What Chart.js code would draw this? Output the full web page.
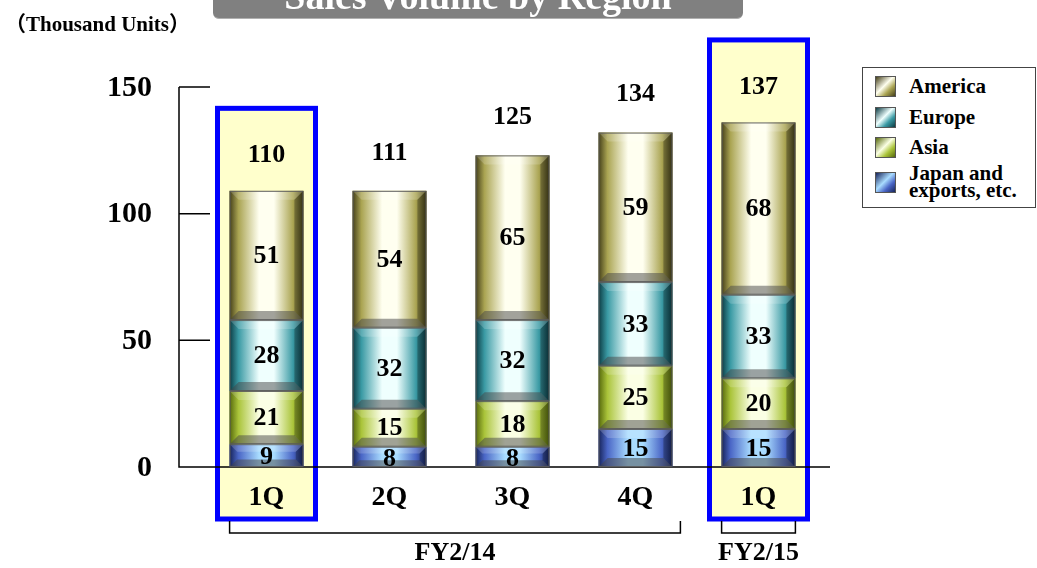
<!DOCTYPE html>
<html>
<head>
<meta charset="utf-8">
<script src="https://cdn.jsdelivr.net/npm/chart.js@4.4.0/dist/chart.umd.min.js"></script>
<style>
  html, body { margin: 0; padding: 0; background: #fff; }
  #wrap { position: relative; width: 1037px; height: 568px; overflow: hidden; }
  #chart { position: absolute; left: 0; top: 0; }
  .serif { font-family: "Liberation Serif", "Times New Roman", "Noto Sans CJK JP", serif; font-weight: bold; }
  #title {
    position: absolute; left: 213px; top: -22px; width: 530px; height: 40px;
    background: #808080; border-radius: 0 0 6px 6px; border-bottom: 1px solid #b0b0b0;
    color: #fff; font-size: 38px; line-height: 36px; text-align: center;
  }
  #unit { position: absolute; left: 5px; top: 7px; font-size: 21px; color: #000; }
  #legend {
    position: absolute; left: 862px; top: 67px; width: 172px; height: 139px;
    border: 1px solid #444; background: #fff;
  }
  .item { position: absolute; left: 12px; display: flex; align-items: center; }
  .icon { width: 21px; height: 21px; margin-right: 13px; box-sizing: border-box; border: 1px solid #555; }
  .lbl { font-size: 21px; line-height: 17px; color: #000; }
</style>
</head>
<body>
<div id="wrap">
  <canvas id="chart" width="1037" height="568"></canvas>
  <div id="title" class="serif">Sales Volume by Region</div>
  <div id="unit" class="serif">（Thousand Units）</div>
  <div id="legend"></div>
</div>
<script>
const categories = ['1Q', '2Q', '3Q', '4Q', '1Q'];
const seriesNames = ['Japan and exports, etc.', 'Asia', 'Europe', 'America'];
const japan = [9, 8, 8, 15, 15];
const asia = [21, 15, 18, 25, 20];
const europe = [28, 32, 32, 33, 33];
const america = [51, 54, 65, 59, 68];
const totals = [110, 111, 125, 134, 137];
const yTicks = [0, 50, 100, 150];
const highlighted = [0, 4];
const groupLabels = ['FY2/14', 'FY2/15'];
const groupStart = [0, 4];
const groupEnd = [3, 4];

// base / dark / light tones for the bevelled bars
const palette = [
  { base: '#4a66c6', dark: '#17245a', light: '#a9dcff' },
  { base: '#aac43a', dark: '#56690c', light: '#fbffe4' },
  { base: '#3a9aa4', dark: '#0c3c44', light: '#effffe' },
  { base: '#aaa452', dark: '#45401a', light: '#fffff0' }
];

const FONT = '"Liberation Serif", "Times New Roman", serif';

function bevelRect(ctx, l, t, r, b, c) {
  const w = r - l, h = b - t;
  const bv = Math.min(9, h / 3);
  let g = ctx.createLinearGradient(l, 0, r, 0);
  g.addColorStop(0, c.dark);
  g.addColorStop(0.12, c.base);
  g.addColorStop(0.4, c.light);
  g.addColorStop(0.6, c.light);
  g.addColorStop(0.86, c.base);
  g.addColorStop(1, c.dark);
  ctx.fillStyle = g;
  ctx.fillRect(l, t, w, h);
  // top bevel
  ctx.beginPath();
  ctx.moveTo(l, t); ctx.lineTo(r, t); ctx.lineTo(r - bv, t + bv); ctx.lineTo(l + bv, t + bv); ctx.closePath();
  ctx.fillStyle = 'rgba(255,255,255,0.18)';
  ctx.fill();
  // bottom bevel
  ctx.beginPath();
  ctx.moveTo(l, b); ctx.lineTo(r, b); ctx.lineTo(r - bv, b - bv); ctx.lineTo(l + bv, b - bv); ctx.closePath();
  ctx.fillStyle = 'rgba(70,70,70,0.5)';
  ctx.fill();
  // right bevel
  ctx.beginPath();
  ctx.moveTo(r, t); ctx.lineTo(r, b); ctx.lineTo(r - bv, b - bv); ctx.lineTo(r - bv, t + bv); ctx.closePath();
  ctx.fillStyle = 'rgba(0,0,0,0.25)';
  ctx.fill();
  ctx.strokeStyle = 'rgba(90,90,90,0.9)';
  ctx.lineWidth = 1;
  ctx.strokeRect(l + 0.5, t + 0.5, w - 1, h - 1);
}

const decorPlugin = {
  id: 'decor',
  beforeDatasetsDraw(chart) {
    const ctx = chart.ctx;
    const xs = chart.scales.x, ys = chart.scales.y;
    const area = chart.chartArea;
    const y0 = ys.getPixelForValue(0);
    const axisX = area.left - 26;
    ctx.save();
    // highlighted quarters
    highlighted.forEach((i) => {
      const cx = xs.getPixelForValue(i);
      const top = ys.getPixelForValue(totals[i]) - 80;
      const bottom = y0 + 52;
      ctx.fillStyle = '#ffffcc';
      ctx.fillRect(cx - 49, top, 98, bottom - top);
      ctx.strokeStyle = '#0000ff';
      ctx.lineWidth = 5;
      ctx.strokeRect(cx - 49, top, 98, bottom - top);
    });
    // y axis + ticks
    ctx.strokeStyle = '#000';
    ctx.lineWidth = 1.5;
    ctx.beginPath();
    ctx.moveTo(axisX, ys.getPixelForValue(150));
    ctx.lineTo(axisX, y0);
    ctx.lineTo(area.right + 10, y0);
    yTicks.forEach((v) => {
      const py = ys.getPixelForValue(v);
      ctx.moveTo(axisX, py);
      ctx.lineTo(axisX + 31, py);
    });
    ctx.stroke();
    ctx.fillStyle = '#000';
    ctx.font = 'bold 30px ' + FONT;
    ctx.textAlign = 'right';
    ctx.textBaseline = 'middle';
    yTicks.forEach((v) => {
      ctx.fillText(String(v), axisX - 27, ys.getPixelForValue(v) + 1);
    });
    // category labels
    ctx.textAlign = 'center';
    ctx.font = 'bold 28px ' + FONT;
    categories.forEach((c, i) => {
      ctx.fillText(c, xs.getPixelForValue(i), y0 + 31);
    });
    // fiscal year brackets
    const meta = chart.getDatasetMeta(0);
    const half = meta.data[0].width / 2;
    ctx.lineWidth = 1.5;
    ctx.font = 'bold 26px ' + FONT;
    groupLabels.forEach((g, k) => {
      const l = xs.getPixelForValue(groupStart[k]) - half;
      const r = xs.getPixelForValue(groupEnd[k]) + half + (groupEnd[k] > groupStart[k] ? 8 : 0);
      const by = y0 + 66;
      ctx.beginPath();
      ctx.moveTo(l, by - 12); ctx.lineTo(l, by); ctx.lineTo(r, by); ctx.lineTo(r, by - 12);
      ctx.stroke();
      ctx.fillText(g, (l + r) / 2, y0 + 86);
    });
    ctx.restore();
  },
  afterDatasetsDraw(chart) {
    const ctx = chart.ctx;
    const ys = chart.scales.y;
    ctx.save();
    chart.data.datasets.forEach((ds, d) => {
      const meta = chart.getDatasetMeta(d);
      meta.data.forEach((bar) => {
        const l = bar.x - bar.width / 2, r = bar.x + bar.width / 2;
        const t = Math.min(bar.y, bar.base), b = Math.max(bar.y, bar.base);
        bevelRect(ctx, l, t, r, b, palette[d]);
      });
    });
    ctx.fillStyle = '#000';
    ctx.textAlign = 'center';
    ctx.textBaseline = 'middle';
    ctx.font = 'bold 26px ' + FONT;
    chart.data.datasets.forEach((ds, d) => {
      const meta = chart.getDatasetMeta(d);
      meta.data.forEach((bar, i) => {
        const mid = (bar.y + bar.base) / 2;
        const shift = ds.data[i] < 10 ? 2 : 1;
        ctx.fillText(String(ds.data[i]), bar.x, mid + shift);
      });
    });
    const top = chart.getDatasetMeta(chart.data.datasets.length - 1);
    top.data.forEach((bar, i) => {
      ctx.fillText(String(totals[i]), bar.x, ys.getPixelForValue(totals[i]) - 33);
    });
    ctx.restore();
  }
};

const seriesData = [japan, asia, europe, america];

new Chart(document.getElementById('chart'), {
  type: 'bar',
  data: {
    labels: categories,
    datasets: seriesNames.map((name, d) => ({
      label: name,
      data: seriesData[d],
      backgroundColor: palette[d].base,
      barPercentage: 0.6,
      categoryPercentage: 1.0
    }))
  },
  options: {
    responsive: false,
    animation: false,
    layout: { padding: { left: 205, right: 217, top: 87, bottom: 101 } },
    scales: {
      x: { stacked: true, display: false },
      y: { stacked: true, display: false, min: 0, max: 150 }
    },
    plugins: {
      legend: { display: false },
      tooltip: { enabled: false }
    }
  },
  plugins: [decorPlugin]
});

// legend, top series first
const legend = document.getElementById('legend');
const legendTops = [8, 39, 69, 97];
[3, 2, 1, 0].forEach((d, k) => {
  const c = palette[d];
  const item = document.createElement('div');
  item.className = 'item';
  item.style.top = legendTops[k] + 'px';
  const icon = document.createElement('div');
  icon.className = 'icon';
  icon.style.background = 'linear-gradient(135deg, ' + c.dark + ' 0%, ' + c.light + ' 45%, ' + c.base + ' 70%, ' + c.dark + ' 100%)';
  const lbl = document.createElement('div');
  lbl.className = 'lbl serif';
  lbl.innerHTML = d === 0 ? 'Japan and<br>exports, etc.' : seriesNames[d];
  item.appendChild(icon);
  item.appendChild(lbl);
  legend.appendChild(item);
});
</script>
</body>
</html>
